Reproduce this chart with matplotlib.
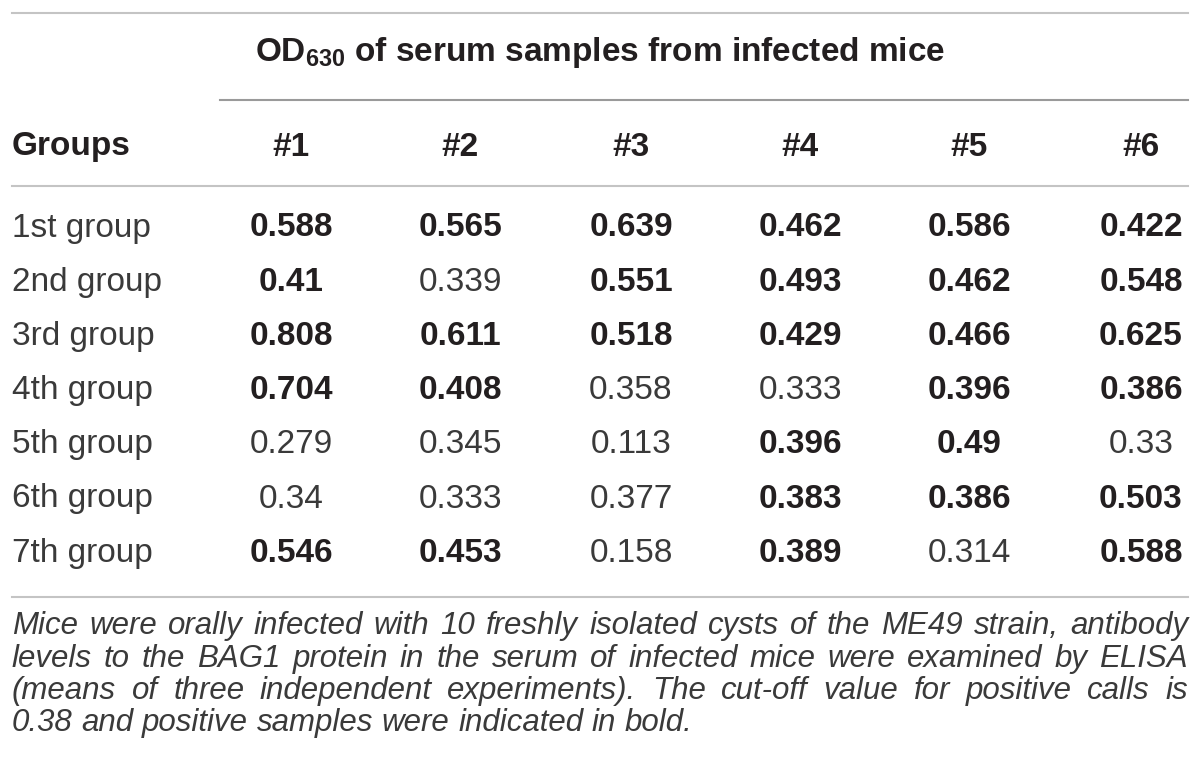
import matplotlib
matplotlib.use("Agg")
import matplotlib.pyplot as plt

plt.rcParams['font.family'] = ['Liberation Sans', 'DejaVu Sans']
plt.rcParams['mathtext.default'] = 'regular'

# data
groups = ['1st group', '2nd group', '3rd group', '4th group', '5th group', '6th group', '7th group']
samples = ['#1', '#2', '#3', '#4', '#5', '#6']
group1 = [0.588, 0.565, 0.639, 0.462, 0.586, 0.422]
group2 = [0.41, 0.339, 0.551, 0.493, 0.462, 0.548]
group3 = [0.808, 0.611, 0.518, 0.429, 0.466, 0.625]
group4 = [0.704, 0.408, 0.358, 0.333, 0.396, 0.386]
group5 = [0.279, 0.345, 0.113, 0.396, 0.49, 0.33]
group6 = [0.34, 0.333, 0.377, 0.383, 0.386, 0.503]
group7 = [0.546, 0.453, 0.158, 0.389, 0.314, 0.588]
cutoff = 0.38
title = r'OD$_{630}$ of serum samples from infected mice'
note = ("Mice were orally infected with 10 freshly isolated cysts of the ME49 strain, antibody "
        "levels to the BAG1 protein in the serum of infected mice were examined by ELISA "
        "(means of three independent experiments). The cut-off value for positive calls is "
        "0.38 and positive samples were indicated in bold.")

rows = [group1, group2, group3, group4, group5, group6, group7]

fig = plt.figure(figsize=(12, 7.83), dpi=100)
ax = fig.add_axes([0, 0, 1, 1])
ax.set_xlim(0, 1200)
ax.set_ylim(783, 0)
ax.axis('off')

dark = '#231f20'
light = '#3a3a3a'
col_x = [291, 460, 631, 800, 969, 1141]
left = 12
right = 1188
fs = 24

# rules
ax.plot([left, right], [13, 13], color='#c4c4c4', lw=1.5)
ax.plot([220, right], [100, 100], color='#9a9a9a', lw=1.5)
ax.plot([left, right], [186, 186], color='#c4c4c4', lw=1.5)
ax.plot([left, right], [597, 597], color='#c4c4c4', lw=1.5)

# header
ax.text(600, 53, title, ha='center', va='center', fontsize=fs, fontweight='bold', color=dark)
ax.text(left, 147, 'Groups', ha='left', va='center', fontsize=fs, fontweight='bold', color=dark)
for x, s in zip(col_x, samples):
    ax.text(x, 147, s, ha='center', va='center', fontsize=fs, fontweight='bold', color=dark)

# body
row_y0 = 228
row_h = 54.2
for i, (g, vals) in enumerate(zip(groups, rows)):
    y = row_y0 + i * row_h
    ax.text(left, y, g, ha='left', va='center', fontsize=fs, color=light)
    for x, v in zip(col_x, vals):
        if v > cutoff:
            ax.text(x, y, str(v), ha='center', va='center', fontsize=fs, fontweight='bold', color=dark)
        else:
            ax.text(x, y, str(v), ha='center', va='center', fontsize=fs, color=light)

# footnote, justified
words = note.split(' ')
breaks = ['antibody', 'ELISA', 'is']
lines = []
cur = []
for w in words:
    cur.append(w)
    if w in breaks and len(lines) < 3:
        lines.append(cur)
        cur = []
lines.append(cur)

fig.canvas.draw()
renderer = fig.canvas.get_renderer()
nfs = 22.5
fy = [626, 659, 691, 723]
sp = ax.text(0, 0, 'a a', fontsize=nfs, style='italic')
sp2 = ax.text(0, 0, 'aa', fontsize=nfs, style='italic')
space_w = sp.get_window_extent(renderer).width - sp2.get_window_extent(renderer).width
sp.remove()
sp2.remove()
for li, ws in enumerate(lines):
    texts = []
    widths = []
    for w in ws:
        t = ax.text(0, fy[li], w, ha='left', va='center', fontsize=nfs, style='italic', color=light)
        texts.append(t)
        widths.append(t.get_window_extent(renderer).width)
    if li < len(lines) - 1:
        gap = (right - left - sum(widths)) / (len(ws) - 1)
    else:
        gap = space_w
    x = left
    for t, wd in zip(texts, widths):
        t.set_x(x)
        x += wd + gap

fig.savefig('out.png', dpi=100)
